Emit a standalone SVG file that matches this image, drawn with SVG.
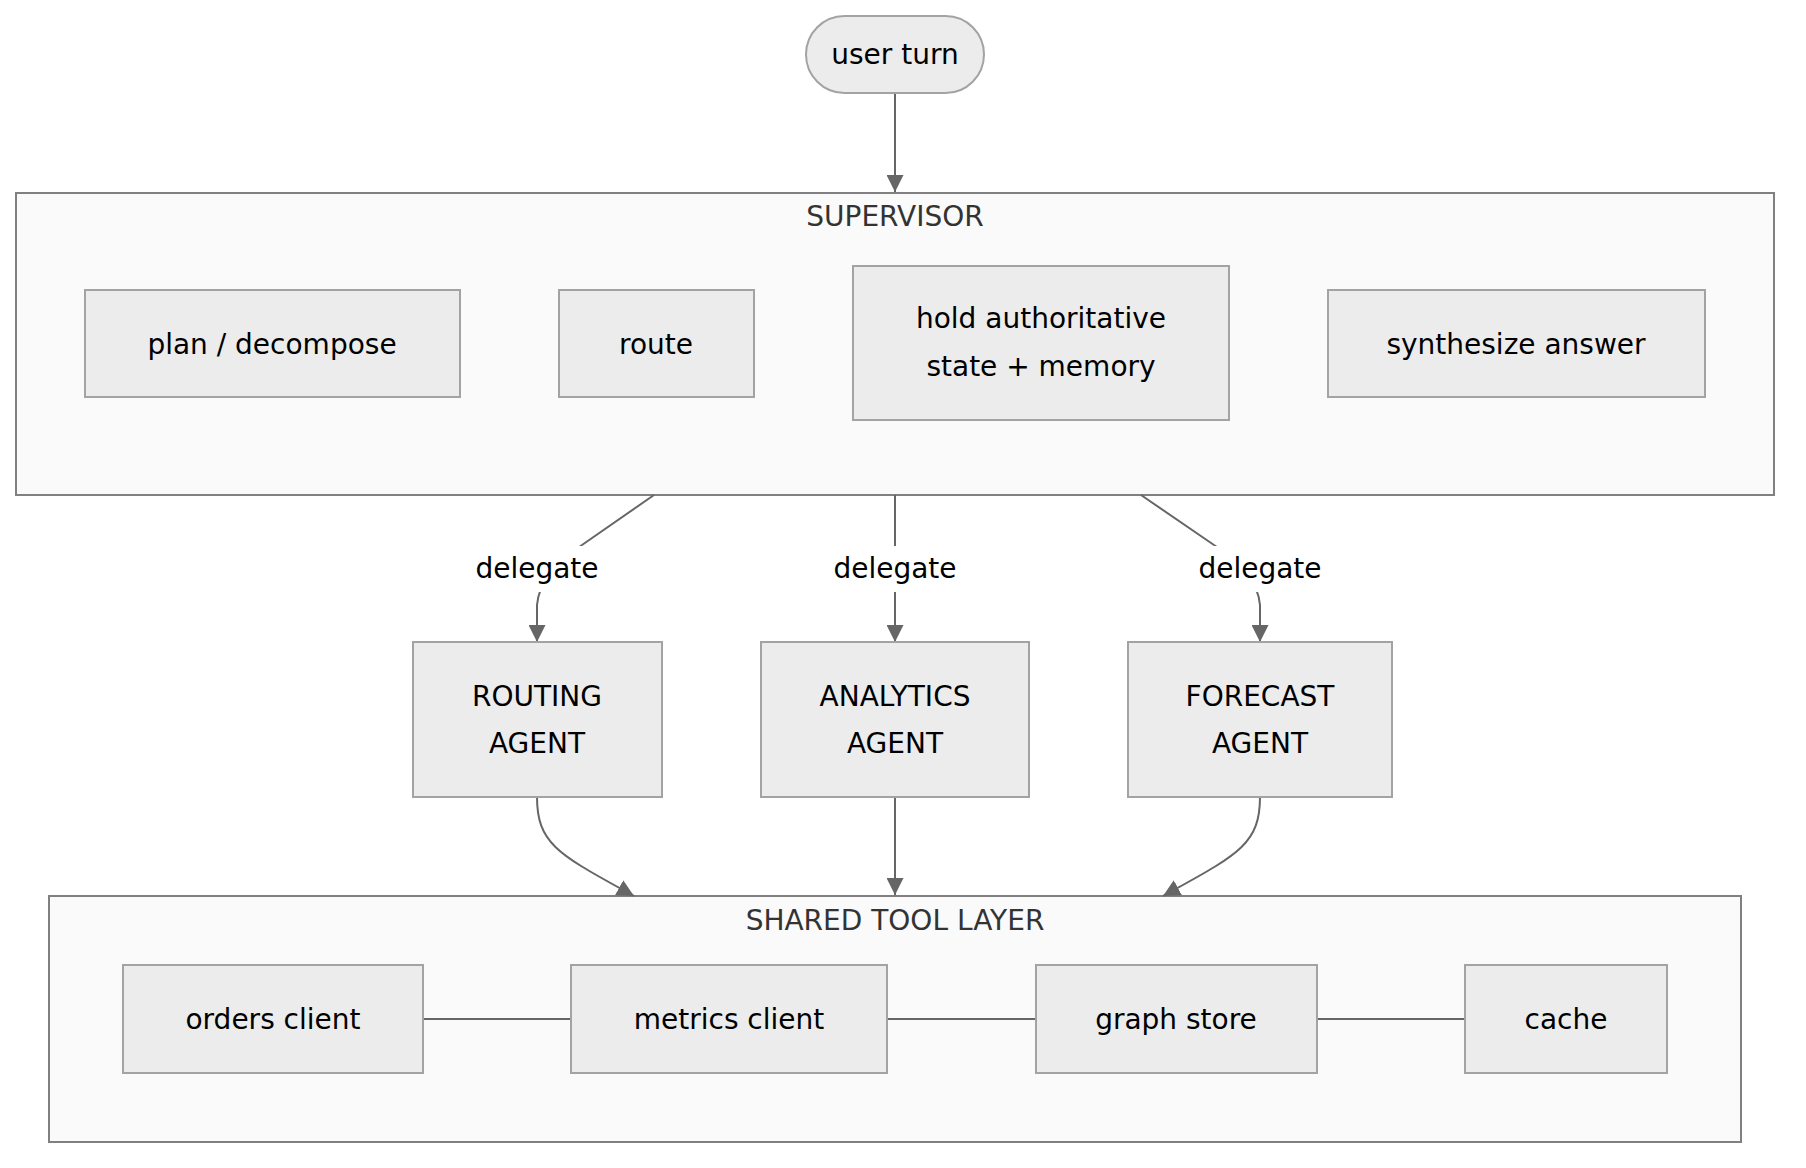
<svg xmlns="http://www.w3.org/2000/svg" width="1806" height="1168" viewBox="0 0 1806 1168">
<defs>
<marker id="arr" viewBox="0 0 10 10" refX="10" refY="5" markerWidth="17" markerHeight="17" markerUnits="userSpaceOnUse" orient="auto">
<path d="M0,0 L10,5 L0,10 z" fill="#666666"/>
</marker>
<style>
text{font-family:"DejaVu Sans","Liberation Sans",sans-serif;font-size:28px;fill:#000;text-anchor:middle}
.cl{fill:#fafafa;stroke:#808080;stroke-width:2}
.ct{fill:#333333}
.nd{fill:#ececec;stroke:#a3a3a3;stroke-width:2}
.e{fill:none;stroke:#666666;stroke-width:2}
.lb{fill:#ffffff}
</style>
</defs>
<rect width="1806" height="1168" fill="#ffffff"/>
<g id="supervisor">
<rect class="cl" x="16" y="193" width="1758" height="302"/>
<text class="ct" x="895" y="226">SUPERVISOR</text>
</g>
<g id="shared-tool-layer">
<rect class="cl" x="49" y="896" width="1692" height="246"/>
<text class="ct" x="895" y="930">SHARED TOOL LAYER</text>
</g>
<g id="connectors">
<path class="e" d="M895,93 L895,192" marker-end="url(#arr)"/>
<path class="e" d="M654,495 L582,545 Q540,572 537,605 L537,642" marker-end="url(#arr)"/>
<path class="e" d="M895,495 L895,642" marker-end="url(#arr)"/>
<path class="e" d="M1141,495 L1214,545 Q1257,572 1260,605 L1260,642" marker-end="url(#arr)"/>
<path class="e" d="M537,797 C537,845 560,855 634,896" marker-end="url(#arr)"/>
<path class="e" d="M895,797 L895,895" marker-end="url(#arr)"/>
<path class="e" d="M1260,797 C1260,845 1237,855 1163,896" marker-end="url(#arr)"/>
<path class="e" d="M423,1019 L571,1019"/>
<path class="e" d="M887,1019 L1036,1019"/>
<path class="e" d="M1317,1019 L1465,1019"/>
<rect class="lb" x="474" y="546" width="126" height="46"/>
<text x="537" y="578">delegate</text>
<rect class="lb" x="832" y="546" width="126" height="46"/>
<text x="895" y="578">delegate</text>
<rect class="lb" x="1197" y="546" width="126" height="46"/>
<text x="1260" y="578">delegate</text>
</g>
<g id="user-turn">
<rect class="nd" x="806" y="16" width="178" height="77" rx="38.5" ry="38.5"/>
<text x="895" y="64">user turn</text>
</g>
<g id="plan-decompose">
<rect class="nd" x="85" y="290" width="375" height="107"/>
<text x="272" y="354">plan / decompose</text>
</g>
<g id="route">
<rect class="nd" x="559" y="290" width="195" height="107"/>
<text x="656" y="354">route</text>
</g>
<g id="hold-state">
<rect class="nd" x="853" y="266" width="376" height="154"/>
<text x="1041" y="328">hold authoritative</text>
<text x="1041" y="376">state + memory</text>
</g>
<g id="synthesize-answer">
<rect class="nd" x="1328" y="290" width="377" height="107"/>
<text x="1516" y="354">synthesize answer</text>
</g>
<g id="routing-agent">
<rect class="nd" x="413" y="642" width="249" height="155"/>
<text x="537" y="706">ROUTING</text>
<text x="537" y="753">AGENT</text>
</g>
<g id="analytics-agent">
<rect class="nd" x="761" y="642" width="268" height="155"/>
<text x="895" y="706">ANALYTICS</text>
<text x="895" y="753">AGENT</text>
</g>
<g id="forecast-agent">
<rect class="nd" x="1128" y="642" width="264" height="155"/>
<text x="1260" y="706">FORECAST</text>
<text x="1260" y="753">AGENT</text>
</g>
<g id="orders-client">
<rect class="nd" x="123" y="965" width="300" height="108"/>
<text x="273" y="1029">orders client</text>
</g>
<g id="metrics-client">
<rect class="nd" x="571" y="965" width="316" height="108"/>
<text x="729" y="1029">metrics client</text>
</g>
<g id="graph-store">
<rect class="nd" x="1036" y="965" width="281" height="108"/>
<text x="1176" y="1029">graph store</text>
</g>
<g id="cache">
<rect class="nd" x="1465" y="965" width="202" height="108"/>
<text x="1566" y="1029">cache</text>
</g>
</svg>
